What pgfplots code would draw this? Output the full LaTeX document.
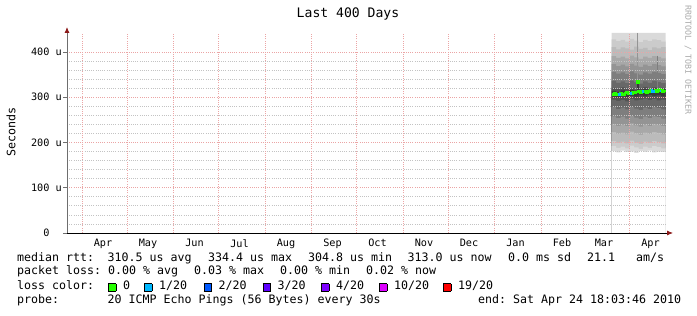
\documentclass[border=0pt]{standalone}
\usepackage{fontspec}
\setmonofont{DejaVu Sans Mono}
\usepackage{pgfplots}
\pgfplotsset{compat=1.18}
\usepackage{pgfplotstable}
\usetikzlibrary{arrows.meta}

\definecolor{mgrid}{RGB}{235,165,165}
\definecolor{mingrid}{RGB}{195,195,195}
\definecolor{arrowc}{RGB}{140,25,25}
\definecolor{axisgray}{RGB}{110,110,110}
\definecolor{wmark}{RGB}{170,170,170}
\definecolor{c1}{HTML}{DADADA}
\definecolor{c2}{HTML}{CBCBCB}
\definecolor{c3}{HTML}{BBBBBB}
\definecolor{c4}{HTML}{A8A8A8}
\definecolor{c5}{HTML}{949494}
\definecolor{c6}{HTML}{7E7E7E}
\definecolor{c7}{HTML}{686868}
\definecolor{c8}{HTML}{525252}
\definecolor{c9}{HTML}{3A3A3A}
\definecolor{lc0}{HTML}{26FF00}
\definecolor{lc1}{HTML}{00B8FF}
\definecolor{lc2}{HTML}{0059FF}
\definecolor{lc3}{HTML}{5E00FF}
\definecolor{lc4}{HTML}{7E00FF}
\definecolor{lc10}{HTML}{DD00FF}
\definecolor{lc19}{HTML}{FF0000}

\newcommand\lf{\ttfamily\fontsize{11.63bp}{14bp}\selectfont\frenchspacing}
\newcommand\af{\ttfamily\fontsize{10.2bp}{12bp}\selectfont\frenchspacing}
\newcommand\lsq[1]{\raisebox{-1.8bp}{\setlength\fboxsep{0pt}\setlength\fboxrule{0.8bp}\fcolorbox{black}{#1}{\rule{0pt}{6.6bp}\rule{6.6bp}{0pt}}}}

\pgfplotstableread{
x u1 u2 u3 u4 u5 u6 u7 u8 u9 l9 l8 l7 l6 l5 l4 l3 l2 l1
353 442 428 411 391 373 356 336 321 314 301 295 278 258 241 223 203 192 181
356 442 424 406 387 369 352 332 318 312 299 292 274 254 237 219 199 188 178
359 442 427 410 390 372 355 335 322 315 302 294 277 257 240 222 202 191 182
362 442 423 408 386 368 351 331 319 313 300 291 273 253 236 218 198 187 179
365 442 429 405 392 374 357 337 320 316 303 296 279 259 242 224 204 193 180
368 442 425 412 388 370 353 333 317 314 301 293 275 255 238 220 200 189 177
371 442 422 407 385 367 350 330 321 317 304 295 272 252 235 217 197 186 181
374 442 427 409 390 372 355 335 323 318 302 297 277 257 240 222 202 191 179
377 442 424 404 387 369 352 332 319 316 305 294 274 254 237 219 199 188 182
380 442 428 410 391 373 356 336 322 319 303 296 278 258 241 223 203 192 178
383 442 426 408 389 371 354 334 320 317 304 293 276 256 239 221 201 190 180
386 442 423 411 386 368 351 331 321 318 302 295 273 253 236 218 198 187 179
389 442 426 409 389 371 354 334 320 318 304 295 276 256 239 221 201 190 180
}\smoke

\pgfplotstableread{
x m
353 308
354 306
355 309
356 305
357 308
358 306
359 310
360 307
361 305
362 309
363 311
364 308
365 310
366 307
367 312
368 309
369 311
370 312
371 313
372 310
373 314
374 311
375 313
376 310
377 314
378 312
379 315
380 311
381 313
382 316
383 312
384 318
385 313
386 315
387 312
388 314
389 314
}\med

\begin{document}
\begin{tikzpicture}
\useasboundingbox (0,0) rectangle (697bp,316bp);
\begin{axis}[
  at={(67bp,83bp)}, anchor=south west,
  scale only axis, width=600bp, height=200bp,
  xmin=-10, xmax=390, ymin=0, ymax=442,
  axis on top,
  axis x line=bottom, axis y line=left,
  x axis line style={black, line width=0.8bp, -{Latex[length=6bp,width=5bp,color=arrowc]}, shorten >=-6bp},
  y axis line style={axisgray, line width=0.8bp, -{Latex[length=6bp,width=5bp,color=arrowc]}, shorten >=-6bp},
  xtick={14,44,75,105,136,167,197,228,258,289,320,348,379},
  xticklabels={Apr,May,Jun,Jul,Aug,Sep,Oct,Nov,Dec,Jan,Feb,Mar,Apr},
  xtick style={draw=none},
  extra x ticks={0,30,61,91,122,153,183,214,244,275,306,334,365},
  extra x tick labels={},
  extra x tick style={grid=major},
  ytick={0,100,200,300,400},
  yticklabels={0\hphantom{~u},100~u,200~u,300~u,400~u},
  minor y tick num=4,
  ymajorgrids, yminorgrids,
  major grid style={mgrid, line width=0.7bp, dash pattern=on 1bp off 1.2bp},
  minor grid style={mingrid, line width=0.7bp, dash pattern=on 1bp off 1.2bp},
  tick align=outside, major tick length=4bp, minor tick length=0pt,
  ytick style={axisgray, line width=0.8bp},
  tick label style={font=\af},
  yticklabel style={anchor=east, inner sep=0pt, xshift=-1bp},
  xticklabel style={anchor=north, inner sep=0pt, yshift=-2bp},
]
% upper halves of the smoke, outer to inner
\addplot[const plot, fill=c1, draw=none] table[x=x,y=u1]{\smoke} \closedcycle;
\addplot[const plot, fill=c2, draw=none] table[x=x,y=u2]{\smoke} \closedcycle;
\addplot[const plot, fill=c3, draw=none] table[x=x,y=u3]{\smoke} \closedcycle;
\addplot[const plot, fill=c4, draw=none] table[x=x,y=u4]{\smoke} \closedcycle;
\addplot[const plot, fill=c5, draw=none] table[x=x,y=u5]{\smoke} \closedcycle;
\addplot[const plot, fill=c6, draw=none] table[x=x,y=u6]{\smoke} \closedcycle;
\addplot[const plot, fill=c7, draw=none] table[x=x,y=u7]{\smoke} \closedcycle;
\addplot[const plot, fill=c8, draw=none] table[x=x,y=u8]{\smoke} \closedcycle;
\addplot[const plot, fill=c9, draw=none] table[x=x,y=u9]{\smoke} \closedcycle;
% lower halves, inner to outer
\addplot[const plot, fill=c8, draw=none] table[x=x,y=l9]{\smoke} \closedcycle;
\addplot[const plot, fill=c7, draw=none] table[x=x,y=l8]{\smoke} \closedcycle;
\addplot[const plot, fill=c6, draw=none] table[x=x,y=l7]{\smoke} \closedcycle;
\addplot[const plot, fill=c5, draw=none] table[x=x,y=l6]{\smoke} \closedcycle;
\addplot[const plot, fill=c4, draw=none] table[x=x,y=l5]{\smoke} \closedcycle;
\addplot[const plot, fill=c3, draw=none] table[x=x,y=l4]{\smoke} \closedcycle;
\addplot[const plot, fill=c2, draw=none] table[x=x,y=l3]{\smoke} \closedcycle;
\addplot[const plot, fill=c1, draw=none] table[x=x,y=l2]{\smoke} \closedcycle;
\addplot[const plot, fill=white, draw=none] table[x=x,y=l1]{\smoke} \closedcycle;
% streaks
\addplot[color=c5, line width=1bp] coordinates {(370.5,442) (370.5,336)};
\addplot[color=c6, line width=0.8bp] coordinates {(383.5,392) (383.5,318)};
\addplot[color=c9, line width=1.5bp] coordinates {(370.5,312) (370.5,332)};
% median
\addplot[const plot, color=lc0, line width=2.2bp] table[x=x,y=m]{\med};
\addplot[const plot, color=lc1, line width=2.2bp] coordinates {(357,308) (358,306) (359,306)};
\addplot[const plot, color=lc1, line width=2.2bp] coordinates {(365,310) (366,307) (366.5,307)};
\addplot[const plot, color=lc1, line width=2.2bp] coordinates {(373,314) (374,311) (374.5,311)};
\addplot[const plot, color=lc1, line width=2.2bp] coordinates {(379,315) (380,311) (381,313) (382,313)};
\addplot[const plot, color=lc1, line width=2.2bp] coordinates {(385,313) (386,313)};
\addplot[only marks, mark=square*, mark size=1.3bp, color=lc0] coordinates {(370.5,335)};
\end{axis}

% title, watermark, axis label
\node[anchor=base, inner sep=0pt, font=\ttfamily\fontsize{13.1bp}{15bp}\selectfont] at (348bp,298.7bp) {Last 400 Days};
\node[rotate=-90, inner sep=0pt, text=wmark, font=\ttfamily\fontsize{8.3bp}{10bp}\selectfont] at (688bp,256bp) {RRDTOOL / TOBI OETIKER};
\node[rotate=90, inner sep=0pt, font=\lf] at (11bp,184bp) {Seconds};

% legend rows
\begin{scope}[every node/.style={anchor=base west, inner sep=0pt, font=\lf}]
\node at (17bp,54.3bp) {median~rtt:};
\node at (107.5bp,54.3bp) {310.5~us~avg};
\node at (208bp,54.3bp) {334.4~us~max};
\node at (308bp,54.3bp) {304.8~us~min};
\node at (407.5bp,54.3bp) {313.0~us~now};
\node at (508bp,54.3bp) {0.0~ms~sd};
\node at (587bp,54.3bp) {21.1};
\node at (636bp,54.3bp) {am/s};

\node at (17bp,41bp) {packet~loss:};
\node at (108bp,41bp) {0.00~\%~avg};
\node at (194bp,41bp) {0.03~\%~max};
\node at (280bp,41bp) {0.00~\%~min};
\node at (366bp,41bp) {0.02~\%~now};

\node at (17bp,27bp) {loss~color:};
\node at (108bp,27bp) {\lsq{lc0}};
\node at (123bp,27bp) {0};
\node at (144bp,27bp) {\lsq{lc1}};
\node at (159bp,27bp) {1/20};
\node at (203.5bp,27bp) {\lsq{lc2}};
\node at (218.5bp,27bp) {2/20};
\node at (262.5bp,27bp) {\lsq{lc3}};
\node at (277.5bp,27bp) {3/20};
\node at (321bp,27bp) {\lsq{lc4}};
\node at (336bp,27bp) {4/20};
\node at (379bp,27bp) {\lsq{lc10}};
\node at (394bp,27bp) {10/20};
\node at (443bp,27bp) {\lsq{lc19}};
\node at (458bp,27bp) {19/20};

\node at (17bp,12.7bp) {probe:};
\node at (107.5bp,12.7bp) {20~ICMP~Echo~Pings~(56~Bytes)~every~30s};
\node at (478bp,12.7bp) {end:~Sat~Apr~24~18:03:46~2010};
\end{scope}
\end{tikzpicture}
\end{document}
